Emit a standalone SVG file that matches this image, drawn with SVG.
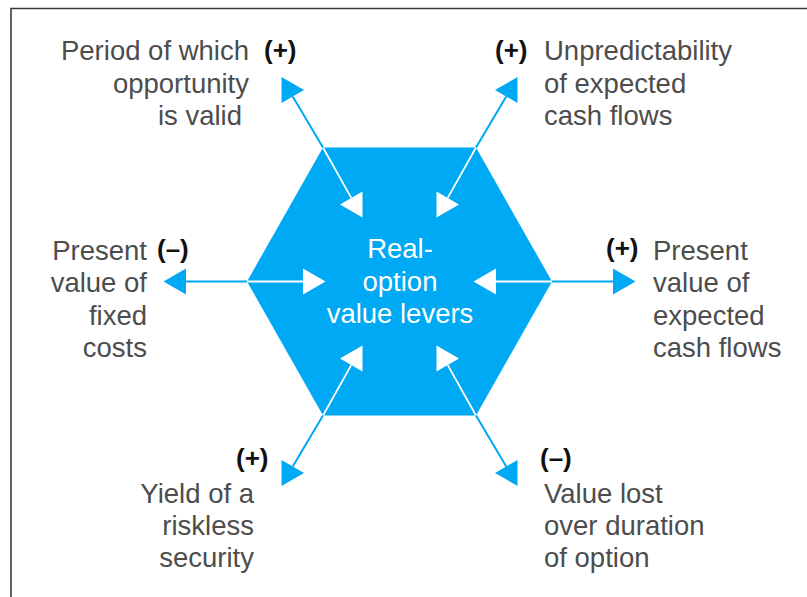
<svg xmlns="http://www.w3.org/2000/svg" xmlns:xlink="http://www.w3.org/1999/xlink" width="807" height="597" viewBox="0 0 807 597">
  <style>
    .lbl { font-family: "Liberation Sans", Arial, sans-serif; font-size: 27.5px; fill: #4d4d4d; }
    .sign { font-family: "Liberation Sans", Arial, sans-serif; font-size: 26px; font-weight: bold; fill: #111111; }
    .core { font-family: "Liberation Sans", Arial, sans-serif; font-size: 27.5px; fill: #ffffff; text-anchor: middle; }
    .end { text-anchor: end; }
    .out { stroke: #00a9f4; stroke-width: 2; fill: none; }
    .in { stroke: #ffffff; stroke-width: 1.8; fill: none; }
    .frame { stroke: #3a3a3a; stroke-width: 1.6; fill: none; }
  </style>
  <defs>
    <!-- equilateral arrowhead, tip at origin, pointing along +x -->
    <path id="head" d="M0,0 L-22.5,-13 L-22.5,13 Z"/>
  </defs>

  <rect width="807" height="597" fill="#ffffff"/>
  <!-- frame -->
  <path class="frame" d="M11,597 L11,8.5 L807,8.5"/>

  <!-- central hexagon -->
  <g id="hexagon">
    <polygon points="323,147.5 476,147.5 552,281.5 476,415.5 323,415.5 247,281.5" fill="#00a9f4"/>
    <text class="core" x="400" y="258">Real-</text>
    <text class="core" x="400" y="291">option</text>
    <text class="core" x="400" y="323">value levers</text>
  </g>

  <g id="connectors">
    <!-- inside the hexagon: white -->
    <path class="in" d="M351.25,197.9 L323,147.5 M447.75,197.9 L476,147.5 M303,281.5 L247,281.5 M496,281.5 L552,281.5 M351.25,365.1 L323,415.5 M447.75,365.1 L476,415.5"/>
    <!-- outside the hexagon: blue -->
    <path class="out" d="M323,147.5 L292.75,96.6 M476,147.5 L506.25,96.6 M247,281.5 L186,281.5 M552,281.5 L613,281.5 M323,415.5 L292.75,466.4 M476,415.5 L506.25,466.4"/>
    <!-- inner heads, pointing to the centre -->
    <g fill="#ffffff">
      <use xlink:href="#head" transform="translate(362.5,217.4) rotate(60)"/>
      <use xlink:href="#head" transform="translate(436.5,217.4) rotate(120)"/>
      <use xlink:href="#head" transform="translate(325.5,281.5) rotate(0)"/>
      <use xlink:href="#head" transform="translate(473.5,281.5) rotate(180)"/>
      <use xlink:href="#head" transform="translate(362.5,345.6) rotate(-60)"/>
      <use xlink:href="#head" transform="translate(436.5,345.6) rotate(-120)"/>
    </g>
    <!-- outer heads, pointing to the levers -->
    <g fill="#00a9f4">
      <use xlink:href="#head" transform="translate(281.5,77.1) rotate(-120)"/>
      <use xlink:href="#head" transform="translate(517.5,77.1) rotate(-60)"/>
      <use xlink:href="#head" transform="translate(163.5,281.5) rotate(180)"/>
      <use xlink:href="#head" transform="translate(635.5,281.5) rotate(0)"/>
      <use xlink:href="#head" transform="translate(281.5,485.9) rotate(120)"/>
      <use xlink:href="#head" transform="translate(517.5,485.9) rotate(60)"/>
    </g>
  </g>

  <g id="lever-period">
    <text class="sign" x="264" y="59">(+)</text>
    <text class="lbl end" x="249" y="60">Period of which</text>
    <text class="lbl end" x="249" y="93">opportunity</text>
    <text class="lbl end" x="242" y="125">is valid</text>
  </g>

  <g id="lever-unpredictability">
    <text class="sign" x="495" y="59">(+)</text>
    <text class="lbl" x="544" y="60">Unpredictability</text>
    <text class="lbl" x="544" y="93">of expected</text>
    <text class="lbl" x="544" y="125">cash flows</text>
  </g>

  <g id="lever-fixed-costs">
    <text class="sign" x="157" y="258">(–)</text>
    <text class="lbl end" x="147" y="260">Present</text>
    <text class="lbl end" x="147" y="292">value of</text>
    <text class="lbl end" x="147" y="325">fixed</text>
    <text class="lbl end" x="147" y="357">costs</text>
  </g>

  <g id="lever-cash-flows">
    <text class="sign" x="606" y="257">(+)</text>
    <text class="lbl" x="653" y="260">Present</text>
    <text class="lbl" x="653" y="292">value of</text>
    <text class="lbl" x="653" y="325">expected</text>
    <text class="lbl" x="653" y="357">cash flows</text>
  </g>

  <g id="lever-riskless-yield">
    <text class="sign" x="236" y="467">(+)</text>
    <text class="lbl end" x="254" y="503">Yield of a</text>
    <text class="lbl end" x="254" y="535">riskless</text>
    <text class="lbl end" x="254" y="567">security</text>
  </g>

  <g id="lever-value-lost">
    <text class="sign" x="540" y="467">(–)</text>
    <text class="lbl" x="544" y="503">Value lost</text>
    <text class="lbl" x="544" y="535">over duration</text>
    <text class="lbl" x="544" y="567">of option</text>
  </g>
</svg>
